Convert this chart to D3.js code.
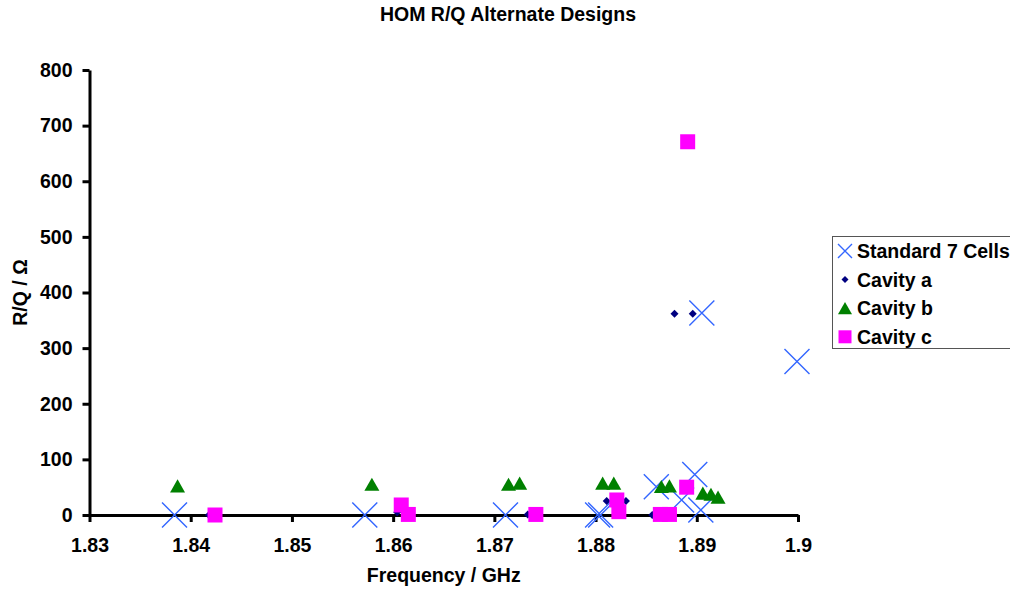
<!DOCTYPE html>
<html>
<head>
<meta charset="utf-8">
<script src="https://cdn.jsdelivr.net/npm/d3@7"></script>
<style>
  html, body { margin: 0; padding: 0; background: #fff; }
  svg { display: block; }
  text { font-family: "Liberation Sans", Arial, sans-serif; font-weight: bold; fill: #000; }
</style>
</head>
<body>
<svg id="chart" width="1010" height="594"></svg>
<script>
// ---- data ----
const chartTitle = "HOM R/Q Alternate Designs";
const xAxisTitle = "Frequency / GHz";
const yAxisTitle = "R/Q / \u03A9";
const seriesNames = ["Standard 7 Cells", "Cavity a", "Cavity b", "Cavity c"];

const xTicks = [1.83, 1.84, 1.85, 1.86, 1.87, 1.88, 1.89, 1.9];
const xTickLabels = ["1.83", "1.84", "1.85", "1.86", "1.87", "1.88", "1.89", "1.9"];
const yTicks = [0, 100, 200, 300, 400, 500, 600, 700, 800];

const standard7Freq = [1.8384, 1.8572, 1.8711, 1.8802, 1.8805, 1.8860, 1.8885, 1.8898, 1.8904, 1.8905, 1.8999];
const standard7RQ   = [0, 0, 0, 0, 0, 51, 27, 73, 9, 363, 276];

const cavityAFreq = [1.8418, 1.8604, 1.8733, 1.8811, 1.8830, 1.8856, 1.8878, 1.8896];
const cavityARQ   = [0, 5, 1, 25, 25, 0, 362, 362];

const cavityBFreq = [1.8387, 1.8579, 1.8714, 1.8725, 1.8807, 1.8818, 1.8865, 1.8873, 1.8906, 1.8914, 1.8921];
const cavityBRQ   = [52, 55, 55, 57, 57, 57, 51, 52, 39, 37, 32];

const cavityCFreq = [1.8424, 1.8608, 1.8615, 1.8741, 1.8821, 1.8823, 1.8864, 1.8873, 1.8890, 1.8891];
const cavityCRQ   = [0, 18, 1, 1, 27, 6, 1, 1, 50, 671];

// ---- layout ----
const svg = d3.select("#chart");
const FS = 19.5;
const x = d3.scaleLinear().domain([1.83, 1.9]).range([89.5, 798]);
const y = d3.scaleLinear().domain([0, 800]).range([515, 70]);

// title
svg.append("text").attr("x", 508).attr("y", 21).attr("text-anchor", "middle")
  .style("font-size", FS + "px").text(chartTitle);

// axes
const xAxis = d3.axisBottom(x).tickValues(xTicks)
  .tickFormat((d, i) => xTickLabels[i]).tickSize(7).tickSizeOuter(0).tickPadding(16);
const yAxis = d3.axisLeft(y).tickValues(yTicks)
  .tickFormat(d => String(d)).tickSize(7).tickSizeOuter(0).tickPadding(10);

const gx = svg.append("g").attr("transform", "translate(0,515)").call(xAxis);
const gy = svg.append("g").attr("transform", "translate(89.5,0)").call(yAxis);
[gx, gy].forEach(g => {
  g.select(".domain").attr("stroke", "#000").attr("stroke-width", 3);
  g.selectAll(".tick line").attr("stroke", "#000").attr("stroke-width", 3);
  g.selectAll(".tick text").style("font-size", FS + "px").style("font-family", "'Liberation Sans', Arial, sans-serif")
    .style("font-weight", "bold").attr("fill", "#000");
});

// axis titles
svg.append("text").attr("x", (x.range()[0] + x.range()[1]) / 2).attr("y", 582)
  .attr("text-anchor", "middle").style("font-size", FS + "px").text(xAxisTitle);
svg.append("text")
  .attr("transform", `translate(27,${(y.range()[0] + y.range()[1]) / 2}) rotate(-90)`)
  .attr("text-anchor", "middle").style("font-size", FS + "px").text(yAxisTitle);

// ---- marker shapes ----
const shapes = {
  x: (cx, cy, s) => `M${cx - s / 2},${cy - s / 2}L${cx + s / 2},${cy + s / 2}M${cx - s / 2},${cy + s / 2}L${cx + s / 2},${cy - s / 2}`,
  diamond: (cx, cy, s) => `M${cx},${cy - s / 2}L${cx + s / 2},${cy}L${cx},${cy + s / 2}L${cx - s / 2},${cy}Z`,
  triangle: (cx, cy, s) => `M${cx},${cy - s * 0.45}L${cx + s / 2},${cy + s * 0.43}L${cx - s / 2},${cy + s * 0.43}Z`,
  square: (cx, cy, s) => `M${cx - s / 2},${cy - s / 2}h${s}v${s}h${-s}Z`
};
const series = [
  { name: seriesNames[0], fx: standard7Freq, fy: standard7RQ, shape: "x", size: 25, legSize: 14, stroke: "#3366ff", fill: "none" },
  { name: seriesNames[1], fx: cavityAFreq, fy: cavityARQ, shape: "diamond", size: 8, legSize: 7, stroke: "none", fill: "#000080" },
  { name: seriesNames[2], fx: cavityBFreq, fy: cavityBRQ, shape: "triangle", size: 15, legSize: 14, stroke: "none", fill: "#008000" },
  { name: seriesNames[3], fx: cavityCFreq, fy: cavityCRQ, shape: "square", size: 15, legSize: 13, stroke: "none", fill: "#ff00ff" }
];

series.forEach(s => {
  const pts = s.fx.map((f, i) => [f, s.fy[i]]);
  svg.append("g").selectAll("path").data(pts).join("path")
    .attr("d", d => shapes[s.shape](x(d[0]), y(d[1]), s.size))
    .attr("fill", s.fill).attr("stroke", s.stroke).attr("stroke-width", 1.4);
});

// ---- legend ----
const leg = svg.append("g");
leg.append("rect").attr("x", 832.5).attr("y", 236.5).attr("width", 200).attr("height", 112)
  .attr("fill", "#fff").attr("stroke", "#555").attr("stroke-width", 1);
series.forEach((s, i) => {
  const cy = 251 + i * 28.6;
  leg.append("path").attr("d", shapes[s.shape](845, cy, s.legSize))
    .attr("fill", s.fill).attr("stroke", s.stroke).attr("stroke-width", 1.4);
  leg.append("text").attr("x", 857).attr("y", cy).attr("dy", "0.36em")
    .style("font-size", FS + "px").text(s.name);
});
</script>
</body>
</html>
